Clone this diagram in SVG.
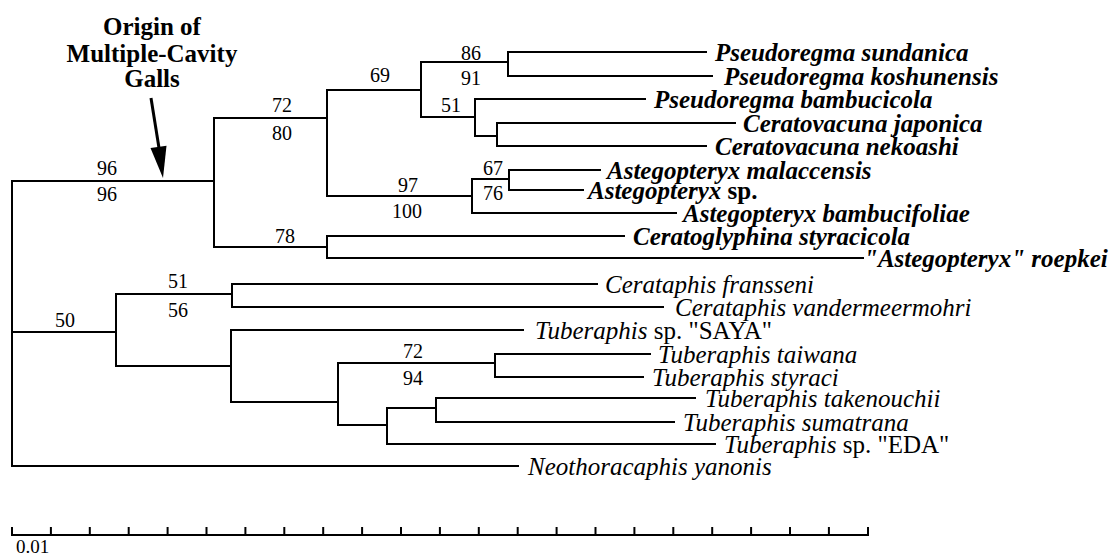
<svg xmlns="http://www.w3.org/2000/svg" width="1115" height="555" viewBox="0 0 1115 555">
<style>
.br{stroke:#000;stroke-width:2;fill:none;stroke-linecap:square}
.t{font-family:"Liberation Serif","Times New Roman",serif;fill:#000}
.bi{font-size:25px;font-style:italic;font-weight:bold}
.i{font-size:25px;font-style:italic}
.up{font-style:normal}
.num{font-size:20px;text-anchor:middle}
.title{font-size:25px;font-weight:bold;text-anchor:middle}
</style>
<rect width="1115" height="555" fill="#fff"/>
<g id="connectors" class="br">
<path d="M12 181V466M12 181H214M214 118V247M214 118H327M327 90V196M327 90H421M421 62V117M421 62H508M508 52V76M508 52H706M508 76H712M421 117H475M475 99V136M475 99H645M475 136H497M497 123V146M497 123H735M497 146H706M327 196H472M472 179V213M472 179H509M509 170V190M509 170H600M509 190H583M472 213H676M214 247H327M327 236V258M327 236H624M327 258H863"/>
<path d="M12 332H116M116 294V366M116 294H232M232 284V307M232 284H597M232 307H663M116 366H231M231 330V402M231 330H523M231 402H338M338 363V425M338 363H495M495 354V377M495 354H650M495 377H643M338 425H387M387 408V444M387 408H436M436 398V422M436 398H695M436 422H674M387 444H715M12 466H518"/>
</g>
<g id="title">
<text class="t title" x="152" y="35">Origin of</text>
<text class="t title" x="152" y="62">Multiple-Cavity</text>
<text class="t title" x="152" y="87">Galls</text>
<path d="M151 98L159 148" stroke="#000" stroke-width="3" fill="none"/>
<polygon points="150.5,148 166.5,145.8 163,178" fill="#000"/>
</g>
<g id="supports" class="t num">
<text x="107" y="175">96</text><text x="107" y="201">96</text>
<text x="282" y="112">72</text><text x="282" y="140">80</text>
<text x="380" y="82">69</text>
<text x="471" y="60">86</text><text x="471" y="85">91</text>
<text x="451" y="112">51</text>
<text x="493" y="175">67</text><text x="493" y="200">76</text>
<text x="408" y="192">97</text><text x="407" y="218">100</text>
<text x="285" y="243">78</text>
<text x="178" y="288">51</text><text x="178" y="317">56</text>
<text x="65" y="327">50</text>
<text x="413" y="358">72</text><text x="413" y="385">94</text>
</g>
<g id="leaf-p-sundanica"><text class="t bi" x="715" y="61">Pseudoregma sundanica</text></g>
<g id="leaf-p-koshunensis"><text class="t bi" x="724" y="85">Pseudoregma koshunensis</text></g>
<g id="leaf-p-bambucicola"><text class="t bi" x="654" y="108">Pseudoregma bambucicola</text></g>
<g id="leaf-c-japonica"><text class="t bi" x="743" y="132">Ceratovacuna japonica</text></g>
<g id="leaf-c-nekoashi"><text class="t bi" x="715" y="155">Ceratovacuna nekoashi</text></g>
<g id="leaf-a-malaccensis"><text class="t bi" x="607" y="179">Astegopteryx malaccensis</text></g>
<g id="leaf-a-sp"><text class="t bi" x="588" y="199">Astegopteryx <tspan class="up">sp.</tspan></text></g>
<g id="leaf-a-bambucifoliae"><text class="t bi" x="683" y="222">Astegopteryx bambucifoliae</text></g>
<g id="leaf-c-styracicola"><text class="t bi" x="633" y="245">Ceratoglyphina styracicola</text></g>
<g id="leaf-a-roepkei"><text class="t bi" x="864" y="267">"Astegopteryx" roepkei</text></g>
<g id="leaf-c-fransseni"><text class="t i" x="605" y="293">Cerataphis fransseni</text></g>
<g id="leaf-c-vandermeermohri"><text class="t i" x="675" y="316">Cerataphis vandermeermohri</text></g>
<g id="leaf-t-saya"><text class="t i" x="535" y="339">Tuberaphis<tspan class="up"> sp. "SAYA"</tspan></text></g>
<g id="leaf-t-taiwana"><text class="t i" x="658" y="363">Tuberaphis taiwana</text></g>
<g id="leaf-t-styraci"><text class="t i" x="652" y="386">Tuberaphis styraci</text></g>
<g id="leaf-t-takenouchii"><text class="t i" x="705" y="407">Tuberaphis takenouchii</text></g>
<g id="leaf-t-sumatrana"><text class="t i" x="683" y="431">Tuberaphis sumatrana</text></g>
<g id="leaf-t-eda"><text class="t i" x="724" y="453">Tuberaphis<tspan class="up"> sp. "EDA"</tspan></text></g>
<g id="leaf-n-yanonis"><text class="t i" x="528" y="475">Neothoracaphis yanonis</text></g>
<g id="scalebar">
<path class="br" d="M12 535H868M12 528V535M50.9 528V535M89.8 528V535M128.7 528V535M167.6 528V535M206.5 528V535M245.4 528V535M284.3 528V535M323.2 528V535M362.1 528V535M401 528V535M439.9 528V535M478.8 528V535M517.7 528V535M556.6 528V535M595.5 528V535M634.4 528V535M673.3 528V535M712.2 528V535M751.1 528V535M790 528V535M828.9 528V535M868 528V535"/>
<text class="t" x="16" y="553" font-size="19">0.01</text>
</g>
</svg>
